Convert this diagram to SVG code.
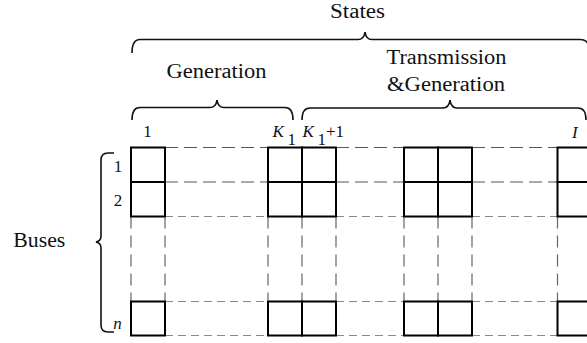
<svg xmlns="http://www.w3.org/2000/svg" width="587" height="343" viewBox="0 0 587 343">
<style>
.lbl{font-size:20px}
.num{font-size:17px}
.it{font-style:italic}
.brace{fill:none;stroke:#111;stroke-width:1.6}
.box{fill:#fff;stroke:#000;stroke-width:2}
.dh{stroke:#555;stroke-width:1.2;stroke-dasharray:13 6;fill:none}
.dl{stroke:#888;stroke-width:1.2;stroke-dasharray:8 5;fill:none}
.dv{stroke:#666;stroke-width:1.2;stroke-dasharray:12 7;fill:none}
</style>
<g id="labels" font-family="Liberation Serif, Times New Roman, DejaVu Serif, serif" fill="#111">
<text class="lbl" x="357.5" y="18" text-anchor="middle" textLength="55" lengthAdjust="spacingAndGlyphs">States</text>
<text class="lbl" x="216.5" y="78" text-anchor="middle" textLength="100" lengthAdjust="spacingAndGlyphs">Generation</text>
<text class="lbl" x="446.5" y="63.5" text-anchor="middle" textLength="120" lengthAdjust="spacingAndGlyphs">Transmission</text>
<text class="lbl" x="446" y="91" text-anchor="middle" textLength="118" lengthAdjust="spacingAndGlyphs">&amp;Generation</text>
<text class="lbl" x="13.3" y="247" textLength="52" lengthAdjust="spacingAndGlyphs">Buses</text>
<text class="num" x="118" y="171.5" text-anchor="middle">1</text>
<text class="num" x="118" y="205.5" text-anchor="middle">2</text>
<text class="num it" x="117.5" y="329" text-anchor="middle">n</text>
<text class="num" x="147.5" y="136.5" text-anchor="middle">1</text>
<text class="num it" x="272.5" y="136.5">K</text>
<text class="num" x="287.5" y="145">1</text>
<text class="num it" x="302.5" y="136.5">K</text>
<text class="num" x="317.5" y="145">1</text>
<text class="num" x="326" y="136.5">+1</text>
<text class="num it" x="572" y="138">I</text>
</g>
<g id="braces">
<path class="brace" d="M132,53 Q132,39.5 140,39.5 L358,39.5 Q364,39.5 365,32 Q366,39.5 372,39.5 L580,39.5 Q590,39.5 590,53"/>
<path class="brace" d="M132,120 Q132,107.5 140,107.5 L210,107.5 Q216,107.5 217,100 Q218,107.5 224,107.5 L285,107.5 Q293,107.5 293,120"/>
<path class="brace" d="M302,120 Q302,108 310,108 L443,108 Q449,108 450,100 Q451,108 457,108 L578,108 Q586,108 586,120"/>
<path class="brace" d="M114,153 L108,153 Q101,153 101,160 L101,236 Q101,241 96,242 Q101,243 101,248 L101,325 Q101,332 108,332 L114,332"/>
</g>
<g id="connectors">
<path class="dh" d="M165,147.5 H268 M336,147.5 H404 M472,147.5 H557.5 M165,182 H268 M336,182 H404 M472,182 H557.5"/>
<path class="dl" d="M165,216.5 H268 M336,216.5 H404 M472,216.5 H557.5 M165,301.5 H268 M336,301.5 H404 M472,301.5 H557.5 M165,335.5 H268 M336,335.5 H404 M472,335.5 H557.5"/>
<path class="dv" d="M131,216.5 V301.5 M165,216.5 V301.5 M268,216.5 V301.5 M302,216.5 V301.5 M336,216.5 V301.5 M404,216.5 V301.5 M438,216.5 V301.5 M472,216.5 V301.5 M557.5,216.5 V301.5"/>
</g>
<g id="col-1">
<rect class="box" x="131" y="147.5" width="34" height="34.5"/>
<rect class="box" x="131" y="182" width="34" height="34.5"/>
<rect class="box" x="131" y="301.5" width="34" height="34"/>
</g>
<g id="col-K1">
<rect class="box" x="268" y="147.5" width="34" height="34.5"/>
<rect class="box" x="268" y="182" width="34" height="34.5"/>
<rect class="box" x="268" y="301.5" width="34" height="34"/>
</g>
<g id="col-K1plus1">
<rect class="box" x="302" y="147.5" width="34" height="34.5"/>
<rect class="box" x="302" y="182" width="34" height="34.5"/>
<rect class="box" x="302" y="301.5" width="34" height="34"/>
</g>
<g id="col-a">
<rect class="box" x="404" y="147.5" width="34" height="34.5"/>
<rect class="box" x="404" y="182" width="34" height="34.5"/>
<rect class="box" x="404" y="301.5" width="34" height="34"/>
</g>
<g id="col-b">
<rect class="box" x="438" y="147.5" width="34" height="34.5"/>
<rect class="box" x="438" y="182" width="34" height="34.5"/>
<rect class="box" x="438" y="301.5" width="34" height="34"/>
</g>
<g id="col-I">
<rect class="box" x="557.5" y="147.5" width="34" height="34.5"/>
<rect class="box" x="557.5" y="182" width="34" height="34.5"/>
<rect class="box" x="557.5" y="301.5" width="34" height="34"/>
</g>
</svg>
